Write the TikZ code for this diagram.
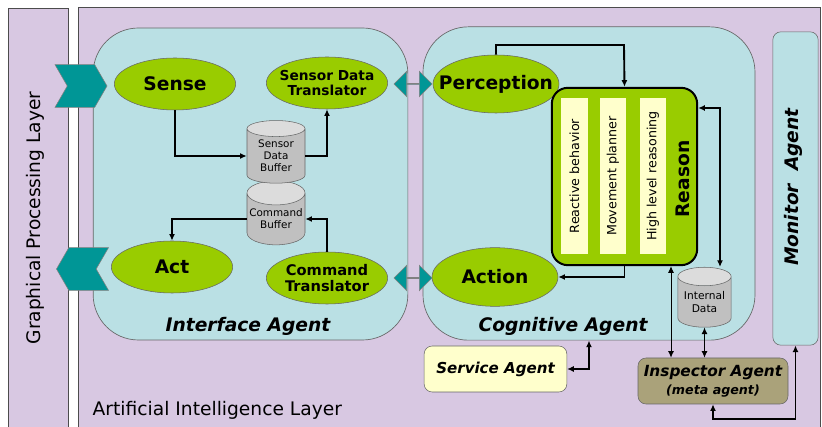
\documentclass[tikz,border=0pt]{standalone}
\usepackage{fontspec}
\setmainfont{DejaVu Sans}
\usetikzlibrary{shapes.geometric,shapes.symbols,shapes.arrows,arrows.meta,positioning}

\definecolor{layerbg}{RGB}{216,200,226}
\definecolor{agentbg}{RGB}{186,224,228}
\definecolor{funcgreen}{RGB}{153,204,0}
\definecolor{portteal}{RGB}{0,150,150}
\definecolor{stripyellow}{RGB}{255,255,204}
\definecolor{metaolive}{RGB}{170,162,122}
\definecolor{bufgray}{RGB}{192,192,192}

\newcommand{\fsz}[1]{\fontsize{#1}{1.15\dimexpr#1pt\relax}\selectfont}

\tikzset{
  layer/.style={draw=black!70, fill=layerbg, line width=0.6pt},
  agent/.style={draw=black!60, fill=agentbg, rounded corners=34pt, line width=0.5pt, inner sep=0pt},
  func/.style={ellipse, draw=black!60, fill=funcgreen, inner xsep=-12pt, inner ysep=0pt, align=center,
    minimum width=91pt, minimum height=39pt, font=\bfseries\fsz{14}},
  buffer/.style={cylinder, shape border rotate=90, aspect=0.45, draw=black!60,
    cylinder uses custom fill, cylinder body fill=bufgray, cylinder end fill=bufgray!55,
    inner sep=0pt, align=center, font=\fsz{7.8}, minimum width=43.5pt},
  port/.style={signal, signal pointer angle=120, fill=portteal, draw=black!50,
    minimum width=39pt, minimum height=32pt, inner sep=0pt},
  link/.style={double arrow, fill=portteal, draw=black!50, inner sep=0pt,
    minimum height=28.5pt, minimum width=19pt, double arrow head extend=5pt},
  strip/.style={rotate=90, fill=stripyellow, minimum width=117pt, minimum height=20pt,
    inner sep=0pt, font=\fsz{9.5}},
  box/.style={draw=black!60, rounded corners=6pt, inner sep=0pt, align=center},
  conn/.style={-{Latex[length=5pt,width=4.5pt]}, line width=1.4pt},
  dconn/.style={{Latex[length=5pt,width=4.5pt]}-{Latex[length=5pt,width=4.5pt]}, line width=1.4pt},
  tconn/.style={{Latex[length=5pt,width=4.5pt]}-{Latex[length=5pt,width=4.5pt]}, line width=0.7pt}
}

\begin{document}
\begin{tikzpicture}[x=0.75pt, y=-0.75pt]
\useasboundingbox (0,0) rectangle (822,427);

% layers
\draw[layer] (8,8) rectangle (68,432);
\draw[layer] (78,7) rectangle (820,432);
\node[rotate=90, font=\fsz{14}] (gpl) at (35,218) {Graphical Processing Layer};
\node[anchor=west, font=\fsz{14}] (ail) at (88,410) {Artificial Intelligence Layer};

% agents
\node[agent, minimum width=236pt, minimum height=234pt] (iface) at (250.5,184) {};
\node[agent, minimum width=249pt, minimum height=235pt] (cogn) at (589,183.5) {};
\node[box, fill=agentbg, minimum width=34pt, minimum height=235pt] (monitor) at (795.5,188.5) {};
\node[rotate=90, font=\bfseries\itshape\fsz{14}] at (793,187) {Monitor~~Agent};
\node[font=\bfseries\itshape\fsz{14}] at (248,326) {Interface Agent};
\node[font=\bfseries\itshape\fsz{14}] at (563,326) {Cognitive Agent};

% ports and links
\node[port, signal from=west, signal to=east] (sensein) at (81,86) {};
\node[port, signal from=east, signal to=west] (actout) at (82.5,269) {};
\node[link] (toplink) at (413,84) {};
\node[link] (botlink) at (413,278) {};

% interface functions
\node[func] (sense) at (175,84) {Sense};
\node[func, font=\bfseries\fsz{10.3}] (sdtrans) at (327,83) {Sensor Data\\Translator};
\node[func] (act) at (172,267) {Act};
\node[func, font=\bfseries\fsz{11}] (cmdtrans) at (327,278) {Command\\Translator};
\node[buffer, minimum height=48pt] (cmdbuf) at (276,219) {Command\\Buffer};
\node[buffer, minimum height=47pt] (sdbuf) at (276,156) {Sensor\\Data\\Buffer};

% cognitive functions
\node[func, minimum width=94.5pt, minimum height=43.5pt] (percep) at (496,84) {Perception};
\node[func, minimum width=94.5pt, minimum height=44pt] (action) at (495,277) {Action};
\node[draw=black, line width=1.5pt, fill=funcgreen, rounded corners=12pt,
  minimum width=109pt, minimum height=133pt] (reason) at (624.5,176.5) {};
\node[strip] (react) at (574.5,176) {Reactive behavior};
\node[strip] (move) at (613,176) {Movement planner};
\node[strip] (high) at (653,176) {High level reasoning};
\node[rotate=90, font=\bfseries\fsz{14}] at (683,179) {Reason};
\node[buffer, minimum width=40pt, minimum height=45pt, font=\fsz{8}] (intdata) at (704.5,302) {Internal\\Data};

% other agents
\node[box, fill=stripyellow, minimum width=107pt, minimum height=34.5pt,
  font=\bfseries\itshape\fsz{11.3}] (service) at (495.5,369) {Service Agent};
\node[box, fill=metaolive, minimum width=112.5pt, minimum height=34.5pt,
  font=\bfseries\itshape\fsz{11.5}] (inspector) at (713,381)
  {Inspector Agent\\{\fsz{9.5}(meta agent)}};

% connectors
\draw[conn] (sense.south) |- (sdbuf.west);
\draw[conn] (sdbuf.east) -| (sdtrans.south);
\draw[conn] (cmdtrans.north) |- (cmdbuf.east);
\draw[conn] (cmdbuf.west) -| (act.north);
\coordinate (pr) at (624,45);
\draw[conn] (percep.north) |- (pr) -- (reason.north);
\draw[conn] (reason.south) |- (action.east);
\coordinate (ri) at (720,108);
\draw[dconn] (reason.east |- ri) -- (ri) -- (ri |- intdata.north);
\coordinate (rq) at (671,300);
\draw[tconn] (reason.south -| rq) -- (inspector.north -| rq);
\draw[tconn] (intdata.south) -- (intdata.south |- inspector.north);
\coordinate (sc) at (589,360);
\draw[dconn] (service.east) -| (sc |- cogn.south);
\coordinate (im) at (760,419);
\draw[dconn] (inspector.south) |- (im) -| (monitor.south);
\end{tikzpicture}
\end{document}
